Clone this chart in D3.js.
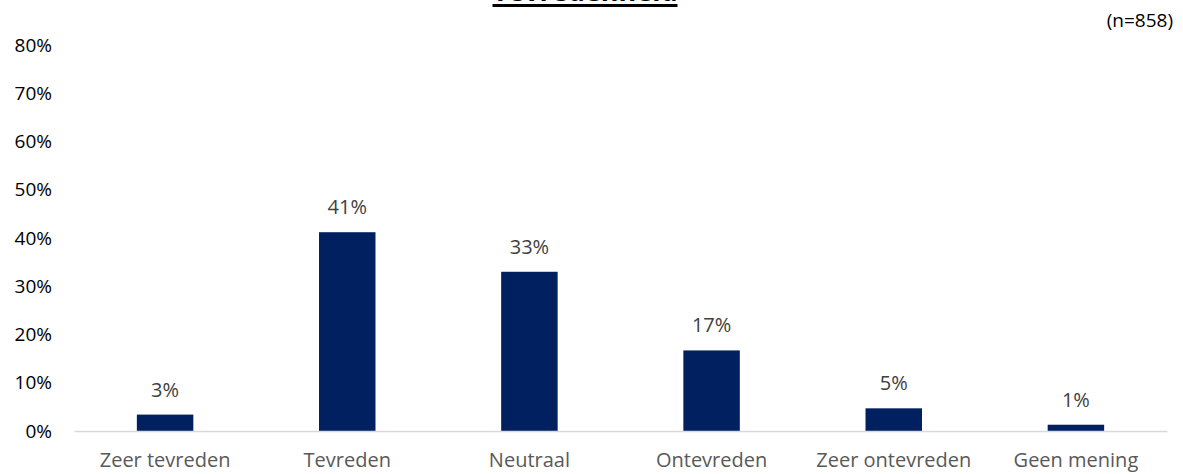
<!DOCTYPE html>
<html lang="nl">
<head>
<meta charset="UTF-8">
<title>Tevredenheid</title>
<script src="https://d3js.org/d3.v7.min.js"></script>
<style>
    body { margin: 0; background: #fff; }
    text { font-family: "Open Sans", "Noto Sans", sans-serif; }
</style>
</head>
<body>
<div id="chart"></div>
<script>
    // data
    const categories = ["Zeer tevreden", "Tevreden", "Neutraal", "Ontevreden", "Zeer ontevreden", "Geen mening"];
    const values = [3.4, 41.2, 33.0, 16.7, 4.7, 1.3];
    const yTicks = [0, 10, 20, 30, 40, 50, 60, 70, 80];
    const title = "Tevredenheid";
    const note = "(n=858)";

    const W = 1183, H = 474;
    const margin = { top: 45, right: 16, bottom: 43, left: 74 };

    const svg = d3.select("#chart").append("svg")
        .attr("width", W)
        .attr("height", H);

    const x = d3.scaleBand()
        .domain(categories)
        .range([margin.left, W - margin.right])
        .padding(0);

    const y = d3.scaleLinear()
        .domain([0, 80])
        .range([H - margin.bottom, margin.top]);

    const barW = x.bandwidth() * 0.31;

    // title, cut off at the top edge as in the original
    const t = svg.append("text")
        .attr("x", 585)
        .attr("y", 1)
        .attr("text-anchor", "middle")
        .attr("font-size", 27)
        .attr("font-weight", "bold")
        .attr("fill", "#000")
        .text(title);
    const tb = t.node().getBBox();
    svg.append("line")
        .attr("x1", tb.x).attr("x2", tb.x + tb.width)
        .attr("y1", 5.5).attr("y2", 5.5)
        .attr("stroke", "#000").attr("stroke-width", 3);

    svg.append("text")
        .attr("x", W - 10)
        .attr("y", 27)
        .attr("text-anchor", "end")
        .attr("font-size", 19)
        .attr("fill", "#000")
        .text(note);

    // y axis labels (no line)
    const yAxis = svg.append("g")
        .attr("transform", `translate(${margin.left - 22},0)`)
        .call(d3.axisLeft(y).tickValues(yTicks).tickFormat(d => d + "%").tickSize(0).tickPadding(0));
    yAxis.select(".domain").remove();
    yAxis.selectAll("text")
        .attr("font-size", 19)
        .attr("fill", "#000")
        .style("font-family", '"Open Sans", "Noto Sans", sans-serif');

    // bars
    svg.append("g").selectAll("rect")
        .data(values)
        .join("rect")
        .attr("x", (d, i) => x(categories[i]) + (x.bandwidth() - barW) / 2)
        .attr("y", d => y(d))
        .attr("width", barW)
        .attr("height", d => y(0) - y(d))
        .attr("fill", "#002060");

    // value labels
    svg.append("g").selectAll("text")
        .data(values)
        .join("text")
        .attr("x", (d, i) => x(categories[i]) + x.bandwidth() / 2)
        .attr("y", d => y(d) - 18)
        .attr("text-anchor", "middle")
        .attr("font-size", 20)
        .attr("fill", "#404040")
        .text(d => Math.round(d) + "%");

    // x axis
    const xAxis = svg.append("g")
        .attr("transform", `translate(0,${y(0)})`)
        .call(d3.axisBottom(x).tickSize(0).tickPadding(22));
    xAxis.select(".domain").attr("stroke", "#d9d9d9").attr("stroke-width", 1.3);
    xAxis.selectAll("text")
        .attr("font-size", 20)
        .attr("fill", "#595959")
        .style("font-family", '"Open Sans", "Noto Sans", sans-serif');
</script>
</body>
</html>
